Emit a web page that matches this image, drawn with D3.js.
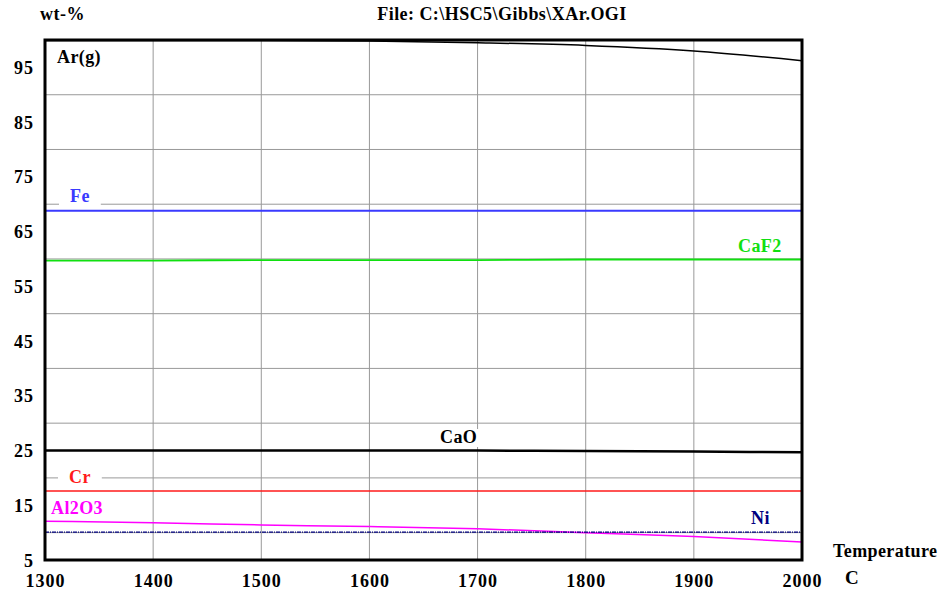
<!DOCTYPE html>
<html><head><meta charset="utf-8">
<script src="https://cdn.jsdelivr.net/npm/d3@7/dist/d3.min.js"></script>
<style>body{margin:0;background:#fff}svg{display:block}text{font-family:"Liberation Serif","Times New Roman",serif;font-weight:bold}</style>
</head><body><svg id="c" width="945" height="601"></svg>
<script>
const temps = [1300,1400,1500,1600,1700,1800,1900,2000];
const arG   = [99.9,99.9,99.9,99.8,99.5,99.0,98.0,96.2];
const fe    = [68.8,68.8,68.8,68.8,68.8,68.8,68.8,68.8];
const caf2  = [59.7,59.7,59.8,59.8,59.8,59.9,59.9,59.9];
const cao   = [25.0,25.0,25.0,25.0,25.0,24.9,24.8,24.7];
const cr    = [17.6,17.6,17.6,17.6,17.6,17.6,17.6,17.6];
const al2o3 = [12.1,11.8,11.4,11.1,10.7,10.0,9.3,8.3];
const ni    = [10.1,10.1,10.1,10.1,10.1,10.1,10.1,10.1];
const yTicks = [5,15,25,35,45,55,65,75,85,95];
const yGrid = [10,20,30,40,50,60,70,80,90];
const xTicks = [1300,1400,1500,1600,1700,1800,1900,2000];

const svg = d3.select("#c");
const x = d3.scaleLinear().domain([1300,2000]).range([45,802]);
const y = d3.scaleLinear().domain([5,100]).range([560,40]);

// grid
svg.append("g").selectAll("line").data(yGrid).join("line")
  .attr("x1",x(1300)).attr("x2",x(2000)).attr("y1",d=>y(d)).attr("y2",d=>y(d))
  .attr("stroke","#999").attr("stroke-width",1);
svg.append("g").selectAll("line").data(xTicks.slice(1,-1)).join("line")
  .attr("y1",y(5)).attr("y2",y(100)).attr("x1",d=>x(d)).attr("x2",d=>x(d))
  .attr("stroke","#999").attr("stroke-width",1);

const series = [
  {name:"Ar(g)", v:arG, color:"#000", w:1.5},
  {name:"Fe", v:fe, color:"#3a3aff", w:2},
  {name:"CaF2", v:caf2, color:"#10e010", w:1.8},
  {name:"CaO", v:cao, color:"#000", w:2.5},
  {name:"Cr", v:cr, color:"#ff1a1a", w:1.5},
  {name:"Al2O3", v:al2o3, color:"#ff00ff", w:1.5},
  {name:"Ni", v:ni, color:"#000080", w:1.2, dash:"4,1,1,1"}
];
const line = d3.line().x((d,i)=>x(temps[i])).y(d=>y(d)).curve(d3.curveMonotoneX);
series.forEach(s=>{
  svg.append("path").attr("d",line(s.v)).attr("fill","none")
    .attr("stroke",s.color).attr("stroke-width",s.w)
    .attr("stroke-dasharray",s.dash||null);
});

// labels
const labels = [
  {t:"Ar(g)", px:57, py:63, c:"#000", box:false},
  {t:"Fe", px:70, py:202, c:"#3a3aff", box:true},
  {t:"CaF2", px:738, py:252, c:"#10e010", box:false},
  {t:"CaO", px:440, py:443, c:"#000", box:true},
  {t:"Cr", px:69, py:483, c:"#ff1a1a", box:true},
  {t:"Al2O3", px:51, py:514, c:"#ff00ff", box:false},
  {t:"Ni", px:751, py:524, c:"#000080", box:false}
];
labels.forEach(l=>{
  const t = svg.append("text").attr("x",l.px).attr("y",l.py).attr("fill",l.c)
    .attr("font-size",18).attr("letter-spacing",0.4).text(l.t);
  if(l.box){
    const b = t.node().getBBox();
    svg.insert("rect","text").attr("x",b.x-11).attr("y",b.y+2).attr("width",b.width+22).attr("height",b.height-2).attr("fill","#fff");
  }
});

// frame
svg.append("rect").attr("x",x(1300)).attr("y",y(100)).attr("width",x(2000)-x(1300)).attr("height",y(5)-y(100))
  .attr("fill","none").attr("stroke","#000").attr("stroke-width",3);

// ticks
svg.append("g").selectAll("text").data(yTicks).join("text")
  .attr("x",34).attr("y",d=>y(d)+6.5).attr("text-anchor","end").attr("font-size",18).attr("letter-spacing",1).text(d=>d);
svg.append("g").selectAll("text").data(xTicks).join("text")
  .attr("x",d=>x(d)+0.5).attr("y",587).attr("text-anchor","middle").attr("font-size",18).attr("letter-spacing",1).text(d=>d);

svg.append("text").attr("x",40).attr("y",20).attr("font-size",18).attr("letter-spacing",0.5).text("wt-%");
svg.append("text").attr("x",502).attr("y",20).attr("text-anchor","middle").attr("font-size",18).attr("letter-spacing",0.45).text("File: C:\\HSC5\\Gibbs\\XAr.OGI");
svg.append("text").attr("x",833).attr("y",557).attr("font-size",18).attr("letter-spacing",0.4).text("Temperature");
svg.append("text").attr("x",845).attr("y",584).attr("font-size",19).text("C");
</script></body></html>
